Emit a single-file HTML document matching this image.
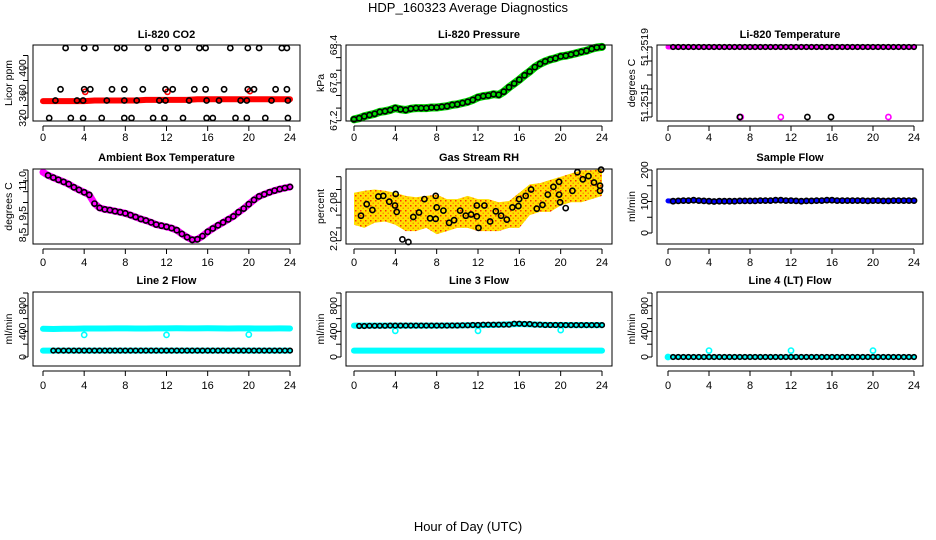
<!DOCTYPE html>
<html><head><meta charset="utf-8">
<style>
html,body{margin:0;padding:0;background:#fff;}
svg{display:block;font-family:"Liberation Sans",Arial,sans-serif;}
</style></head>
<body>
<svg id="chart" width="936" height="540" viewBox="0 0 936 540" xmlns="http://www.w3.org/2000/svg">
<defs>
<pattern id="rhpat" width="5" height="5" patternUnits="userSpaceOnUse">
<rect width="5" height="5" fill="#ffe000"/>
<rect x="0" y="0" width="1.5" height="1.5" fill="#ff3000"/>
<rect x="2.5" y="2.5" width="1.5" height="1.5" fill="#ff9000"/>
</pattern>
</defs>
<text x="468" y="12" text-anchor="middle" font-size="13">HDP_160323  Average Diagnostics</text>
<text x="468" y="531" text-anchor="middle" font-size="13">Hour of Day (UTC)</text>
</svg>
<script>
// ---- data ----
const hours49 = [0,0.5,1,1.5,2,2.5,3,3.5,4,4.5,5,5.5,6,6.5,7,7.5,8,8.5,9,9.5,10,10.5,11,11.5,12,12.5,13,13.5,14,14.5,15,15.5,16,16.5,17,17.5,18,18.5,19,19.5,20,20.5,21,21.5,22,22.5,23,23.5,24];
const hours25 = [0,1,2,3,4,5,6,7,8,9,10,11,12,13,14,15,16,17,18,19,20,21,22,23,24];
const xTicks = [0,4,8,12,16,20,24];

const co2Red = [347,347,347,347,347,348,348,348,348,348,349,349,349,349,349,350,350,350,350,350,350,350,350,350,350];
const co2RedOutHours = [4.1,12.1,20.1];
const co2RedOutVals = [362,362,363];
const co2Hours = [2.2,4.0,5.1,7.2,7.9,10.2,11.9,13.1,15.2,15.8,18.2,19.9,21.0,23.2,23.7,
 1.7,4.0,4.6,6.7,7.9,9.7,11.9,12.6,14.7,15.8,17.6,19.9,20.5,22.6,23.7,
 1.2,3.3,3.9,6.2,7.9,9.1,11.3,11.9,14.2,15.9,17.1,19.2,19.8,22.2,23.8,
 0.6,2.7,3.9,5.7,7.9,8.6,10.7,11.8,13.6,15.9,16.5,18.7,19.8,21.6,23.8];
const co2Vals = [432,432,432,432,432,432,432,432,432,432,432,432,432,432,432,
 366,366,366,366,366,366,366,366,366,366,366,366,366,366,366,
 348,348,348,348,348,348,348,348,348,348,348,348,348,348,348,
 320,320,320,320,320,320,320,320,320,320,320,320,320,320,320];

const pressVals = [67.22,67.24,67.27,67.29,67.31,67.34,67.35,67.37,67.40,67.38,67.37,67.39,67.40,67.40,67.40,67.41,67.41,67.42,67.43,67.45,67.46,67.48,67.50,67.53,67.57,67.59,67.60,67.62,67.61,67.66,67.73,67.79,67.85,67.92,67.98,68.05,68.10,68.14,68.17,68.19,68.22,68.23,68.25,68.27,68.29,68.31,68.34,68.36,68.37];

const liTempVals = [51.2519,51.2519,51.2519,51.2519,51.2519,51.2519,51.2519,51.2519,51.2519,51.2519,51.2519,51.2519,51.2519,51.2519,51.2519,51.2519,51.2519,51.2519,51.2519,51.2519,51.2519,51.2519,51.2519,51.2519,51.2519];
const liTempBlackOutHours = [7.0,13.6,15.9];
const liTempMagOutHours = [7.1,11.0,21.5];
const liTempOutVal = [51.2514,51.2514,51.2514];

const ambVals = [11.4,11.25,11.15,11.05,10.95,10.85,10.7,10.58,10.47,10.35,9.95,9.75,9.68,9.65,9.6,9.55,9.5,9.42,9.33,9.24,9.17,9.08,8.98,8.93,8.88,8.82,8.72,8.55,8.4,8.28,8.3,8.45,8.65,8.8,8.95,9.08,9.22,9.36,9.55,9.72,9.92,10.12,10.28,10.38,10.47,10.55,10.62,10.67,10.72];

const rhUpper = [2.095,2.098,2.10,2.098,2.095,2.09,2.088,2.09,2.092,2.085,2.085,2.09,2.085,2.085,2.08,2.082,2.095,2.108,2.11,2.115,2.12,2.125,2.13,2.13,2.132];
const rhLower = [2.045,2.04,2.048,2.05,2.045,2.035,2.035,2.04,2.03,2.035,2.04,2.04,2.035,2.035,2.035,2.04,2.04,2.06,2.065,2.065,2.075,2.08,2.08,2.085,2.09];
const rhHours = [0.68,1.23,1.78,2.36,2.84,3.42,3.97,4.04,4.13,4.68,5.26,5.74,6.29,6.81,7.36,7.91,7.91,8.0,8.65,9.2,9.69,10.27,10.82,11.33,11.88,12.05,11.88,12.62,13.17,13.72,14.24,14.79,15.33,15.91,15.98,16.62,17.14,17.69,18.24,18.75,19.3,19.85,19.95,19.85,20.49,21.14,21.62,22.14,22.69,23.23,23.81,23.81,23.91];
const rhVals = [2.059,2.077,2.068,2.089,2.090,2.081,2.075,2.093,2.065,2.022,2.018,2.057,2.064,2.085,2.055,2.054,2.090,2.072,2.067,2.048,2.052,2.067,2.059,2.061,2.058,2.040,2.075,2.075,2.050,2.066,2.059,2.053,2.072,2.074,2.085,2.090,2.100,2.070,2.076,2.092,2.104,2.092,2.080,2.112,2.071,2.098,2.127,2.116,2.121,2.111,2.106,2.098,2.131];

const sampleVals = [102,101,102,103,103,104,103,102,101,100,101,101,101,101,102,102,102,102,103,103,103,104,104,103,103,102,101,102,102,103,103,104,104,103,103,103,103,103,103,102,103,103,102,102,103,103,103,103,103];

const line2Cyan = [440,438,440,442,445,446,446,447,447,446,446,447,447,448,447,447,448,447,446,447,447,446,446,447,446];
const line2Low = [100,100,100,100,100,100,100,100,100,100,100,100,100,100,100,100,100,100,100,100,100,100,100,100,100];
const line2Black = [100,100,100,100,100,100,100,100,100,100,100,100,100,100,100,100,100,100,100,100,100,100,100,100,100];
const flowOutHours = [4,12,20];
const line2OutVals = [345,345,350];

const line3Cyan = [490,490,490,490,490,490,490,490,490,492,492,495,495,500,505,510,515,510,505,500,500,498,498,498,498];
const line3Black = [485,485,488,488,490,490,490,490,490,490,492,495,500,505,505,505,520,515,505,500,500,498,498,498,498];
const line3Low = [100,100,100,100,100,100,100,100,100,100,100,100,100,100,100,100,100,100,100,100,100,100,100,100,100];
const line3OutVals = [410,410,420];

const line4Vals = [0,0,0,0,0,0,0,0,0,0,0,0,0,0,0,0,0,0,0,0,0,0,0,0,0];
const line4OutVals = [100,100,100];

// ---- layout ----
const NS = "http://www.w3.org/2000/svg";
const svg = document.getElementById('chart');
const cols = [{bx:33,bw:267,x0:43,x24:290,ylab:22,ytit:8},{bx:346,bw:266,x0:354,x24:602,ylab:333,ytit:320},{bx:657,bw:266,x0:668,x24:914,ylab:644,ytit:631}];
const rows = [{by:45,bh:76,title:38,xl:141},{by:169,bh:75,title:161,xl:266},{by:292,bh:74,title:284,xl:389}];

function mk(tag, attrs, parent){
  const e = document.createElementNS(NS, tag);
  for (const k in attrs) e.setAttribute(k, attrs[k]);
  (parent||svg).appendChild(e);
  return e;
}

function panel(ci, ri, name, title, ytitle, yA, pA, yB, pB, yticks, ylabels, yfmt){
  const c = cols[ci], r = rows[ri];
  const g = mk('g', {});
  
  
  const xs = h => c.x0 + (h/24)*(c.x24 - c.x0);
  const ys = v => pA + (v - yA)/(yB - yA)*(pB - pA);
  const plot = mk('g', {}, g);
  
  
  const t = mk('text', {x:c.bx + c.bw/2, y:r.title, 'text-anchor':'middle', 'font-size':11, 'font-weight':'bold'}, g);
  t.textContent = title;
  
  
  const xa = mk('g', {stroke:'#000', 'stroke-width':1}, g);
  
  
  const yb = r.by + r.bh;
  mk('line', {x1:xs(xTicks[0]), x2:xs(xTicks[xTicks.length-1]), y1:yb+5, y2:yb+5}, xa);
  xTicks.forEach(tk => {
    mk('line', {x1:xs(tk), x2:xs(tk), y1:yb+5, y2:yb+10}, xa);
    const tl = mk('text', {x:xs(tk), y:r.xl, 'text-anchor':'middle', 'font-size':11, stroke:'none', fill:'#000'}, xa);
    tl.textContent = tk;
    
    
  });
  const ya = mk('g', {stroke:'#000', 'stroke-width':1}, g);
  
  
  const ax = c.bx - 5;
  mk('line', {x1:ax, x2:ax, y1:ys(yticks[0]), y2:ys(yticks[yticks.length-1])}, ya);
  yticks.forEach(tk => mk('line', {x1:ax-5, x2:ax, y1:ys(tk), y2:ys(tk)}, ya));
  ylabels.forEach(lb => {
    const yy = ys(lb);
    const tl = mk('text', {x:0, y:0, transform:`translate(${c.ylab+4},${yy}) rotate(-90)`, 'text-anchor':'middle', 'font-size':10.5, stroke:'none', fill:'#000'}, ya);
    tl.textContent = yfmt ? yfmt(lb) : lb;
    
    
  });
  const yt = mk('text', {x:0, y:0, transform:`translate(${c.ytit+4},${r.by + r.bh/2}) rotate(-90)`, 'text-anchor':'middle', 'font-size':10.5}, g);
  yt.textContent = ytitle;
  
  
  const finish = () => {
    const b = mk('rect', {x:c.bx, y:r.by, width:c.bw, height:r.bh, fill:'none', stroke:'#000', 'stroke-width':1}, g);
    
    
  };
  return {xs, ys, plot, finish};
}

function band(p, hs, vs, color, w, name){
  const d = hs.map((h,i)=>(i?'L':'M')+p.xs(h).toFixed(1)+' '+p.ys(vs[i]).toFixed(1)).join(' ');
  const e = mk('path', {d, fill:'none', stroke:color, 'stroke-width':w, 'stroke-linejoin':'round', 'stroke-linecap':'round'}, p.plot);
  
  
}
function pts(p, hs, vs, color, name, r){
  hs.forEach((h,i)=>{
    const e = mk('circle', {cx:p.xs(h).toFixed(1), cy:p.ys(vs[i]).toFixed(1), r:r||2.6, fill:'none', stroke:color, 'stroke-width':1.6}, p.plot);
    
    
  });
}

// CO2
let p = panel(0,0,'co2','Li-820 CO2','Licor ppm',320,118,400,68,[320,340,360,380,400,420],[320,360,400]);
band(p, hours25, co2Red, '#ff0000', 6, 'co2-red-series');
pts(p, co2RedOutHours, co2RedOutVals, '#ff0000', 'co2-red-point');
pts(p, co2Hours, co2Vals, '#000', 'co2-point');
p.finish();

// Pressure
p = panel(1,0,'pressure','Li-820 Pressure','kPa',67.2,120.7,68.4,45,[67.2,67.4,67.6,67.8,68.0,68.2,68.4],[67.2,67.8,68.4],v=>v.toFixed(1));
band(p, hours49, pressVals, '#00dd00', 8, 'pressure-green-series');
pts(p, hours49, pressVals, '#000', 'pressure-point');
p.finish();

// Li temp
p = panel(2,0,'li-temp','Li-820 Temperature','degrees C',51.2514,117,51.2519,47,[51.2514,51.2515,51.2516,51.2517,51.2518,51.2519],[51.2515,51.2519],v=>v.toFixed(4));
band(p, hours25, liTempVals, '#ff00ff', 5, 'li-temp-magenta-series');
pts(p, hours49.slice(1), hours49.slice(1).map(h=>liTempVals[Math.round(h)]), '#000', 'li-temp-point', 2.3);
pts(p, liTempMagOutHours, liTempOutVal, '#ff00ff', 'li-temp-magenta-point');
pts(p, liTempBlackOutHours, liTempOutVal, '#000', 'li-temp-point');
p.finish();

// Ambient
p = panel(0,1,'ambient','Ambient Box Temperature','degrees C',8.5,235,11.5,170,[8.5,9.0,9.5,10.0,10.5,11.0,11.5],[8.5,9.5,11.0],v=>v.toFixed(1));
band(p, hours49, ambVals, '#ff00ff', 7, 'ambient-magenta-series');
pts(p, hours49.slice(1), ambVals.slice(1), '#000', 'ambient-point');
p.finish();

// RH
p = panel(1,1,'rh','Gas Stream RH','percent',2.02,240.7,2.12,176.7,[2.02,2.04,2.06,2.08,2.10,2.12],[2.02,2.08],v=>v.toFixed(2));
{
  const up = hours25.map((h,i)=>p.xs(h).toFixed(1)+','+p.ys(rhUpper[i]).toFixed(1));
  const lo = hours25.map((h,i)=>p.xs(h).toFixed(1)+','+p.ys(rhLower[i]).toFixed(1)).reverse();
  const e = mk('polygon', {points: up.concat(lo).join(' '), fill:'url(#rhpat)'}, p.plot);
  
  
}
pts(p, rhHours, rhVals, '#000', 'rh-point');
p.finish();

// Sample flow
p = panel(2,1,'sample-flow','Sample Flow','ml/min',0,233,200,170,[0,50,100,150,200],[0,100,200]);
band(p, hours49, sampleVals, '#0000ff', 5, 'sample-flow-blue-series');
pts(p, hours49.slice(1), sampleVals.slice(1), '#000', 'sample-flow-point');
p.finish();

const fT = [0,200,400,600,800,1000], fL = [0,400,800];
// Line 2
p = panel(0,2,'line2-flow','Line 2 Flow','ml/min',0,357,1000,293,fT,fL);
band(p, hours25, line2Cyan, '#00ffff', 6, 'line2-cyan-series');
band(p, hours25, line2Low, '#00ffff', 6, 'line2-cyan-low-series');
pts(p, flowOutHours, line2OutVals, '#00ffff', 'line2-cyan-point');
pts(p, hours49.slice(2), hours49.slice(2).map(h=>line2Black[Math.round(h)]), '#000', 'line2-point', 2.3);
p.finish();

// Line 3
p = panel(1,2,'line3-flow','Line 3 Flow','ml/min',0,357,1000,293,fT,fL);
band(p, hours25, line3Cyan, '#00ffff', 6, 'line3-cyan-series');
band(p, hours25, line3Low, '#00ffff', 6, 'line3-cyan-low-series');
pts(p, flowOutHours, line3OutVals, '#00ffff', 'line3-cyan-point');
pts(p, hours49.slice(1), hours49.slice(1).map(h=>line3Black[Math.round(h)]), '#000', 'line3-point', 2.3);
p.finish();

// Line 4
p = panel(2,2,'line4-flow','Line 4 (LT) Flow','ml/min',0,357,1000,293,fT,fL);
band(p, hours25, line4Vals, '#00ffff', 5, 'line4-cyan-series');
pts(p, [0], [line4Vals[0]], '#00ffff', 'line4-cyan-point');
pts(p, flowOutHours, line4OutVals, '#00ffff', 'line4-cyan-point');
pts(p, hours49.slice(1), hours49.slice(1).map(h=>line4Vals[Math.round(h)]), '#000', 'line4-point', 2.3);
p.finish();
</script>
</body></html>
